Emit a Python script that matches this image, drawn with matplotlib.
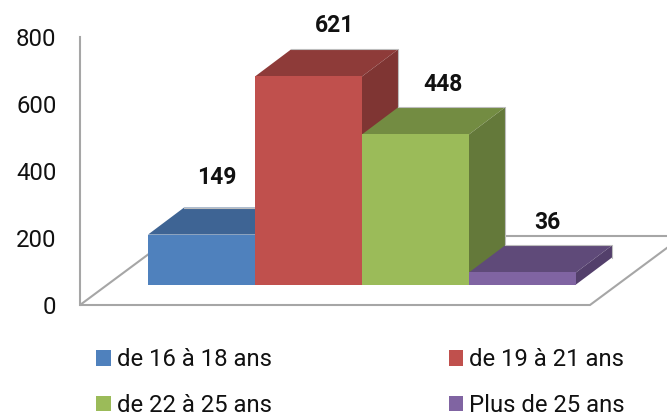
import matplotlib
matplotlib.use("Agg")
import matplotlib.pyplot as plt
from matplotlib.patches import Polygon, Patch

categories = ["de 16 à 18 ans", "de 19 à 21 ans", "de 22 à 25 ans", "Plus de 25 ans"]
values = [149, 621, 448, 36]
yticks = [0, 200, 400, 600, 800]
front_colors = ["#4F81BD", "#C0504D", "#9BBB59", "#8064A2"]
top_colors = ["#3E6494", "#8E3B39", "#738C42", "#5F4A79"]
side_colors = ["#375882", "#7F3533", "#64793A", "#533F6B"]
label_offsets = [(15.5, 57), (26, 51), (28, 50), (25, 50)]

W, H = 667, 416
plt.rcParams["font.family"] = ["Roboto", "DejaVu Sans"]
fig = plt.figure(figsize=(W / 100, H / 100), dpi=100, facecolor="white")
ax = fig.add_axes([80 / W, (H - 305) / H, (W - 80) / W, 268 / H])
px_x, px_y = 107.0, 268 / 800
ax.set_xlim(-68 / px_x, 519 / px_x)
ax.set_ylim(0, 800)
ax.patch.set_visible(False)
for s in ["top", "right", "bottom"]:
    ax.spines[s].set_visible(False)
ax.spines["left"].set_color("#A6A6A6")
ax.spines["left"].set_linewidth(1.5)
ax.set_xticks([])
ax.set_yticks(yticks)
ax.tick_params(axis="y", length=0, pad=17, labelsize=17.2, labelcolor="#111111")

GRAY = "#A6A6A6"
x0, x1 = -68 / px_x, 442 / px_x
fdx, fdy = 93 / px_x, 69 / px_y
ax.add_patch(Polygon([(x0, 0), (x1, 0), (x1 + fdx, fdy), (x0 + fdx, fdy)], closed=True,
                     facecolor="white", edgecolor=GRAY, lw=1.5, clip_on=False, zorder=1))

base = 20.5 / px_y
dx, dy = 36 / px_x, 27 / px_y
for i, v in enumerate(values):
    z = 3 + i
    top = base + v
    ax.bar(i, v, width=1, bottom=base, align="edge", color=front_colors[i], zorder=z + 0.2, clip_on=False)
    ax.add_patch(Polygon([(i, top), (i + 1, top), (i + 1 + dx, top + dy), (i + dx, top + dy)],
                         closed=True, facecolor=top_colors[i], edgecolor="none", clip_on=False, zorder=z))
    ax.add_patch(Polygon([(i + 1, base), (i + 1 + dx, base + dy), (i + 1 + dx, top + dy), (i + 1, top)],
                         closed=True, facecolor=side_colors[i], edgecolor="none", clip_on=False, zorder=z))
    ax.plot([i + dx, i + 1 + dx, i + 1 + dx], [top + dy, top + dy, base + dy], color="#BDBDBD", lw=0.8,
            clip_on=False, zorder=z + 0.1)
    ox, oy = label_offsets[i]
    ax.annotate(str(v), xy=(i + 0.5, top), xytext=(ox * 0.72, oy * 0.72), textcoords="offset points",
                ha="center", va="center", fontsize=16.5, fontweight="bold", color="#111111",
                annotation_clip=False, zorder=20)

handles = [Patch(facecolor=c, edgecolor="none") for c in front_colors]
order = [0, 2, 1, 3]
fig.legend([handles[k] for k in order], [categories[k] for k in order], ncol=2, loc="lower left",
           bbox_to_anchor=(96 / W, -1 / H), frameon=False, fontsize=17.2, labelcolor="#111111",
           handlelength=0.62, handleheight=0.62, handletextpad=0.25, columnspacing=7.4, labelspacing=0.95,
           borderpad=0, borderaxespad=0)
fig.savefig("out.png", dpi=100, facecolor="white")
